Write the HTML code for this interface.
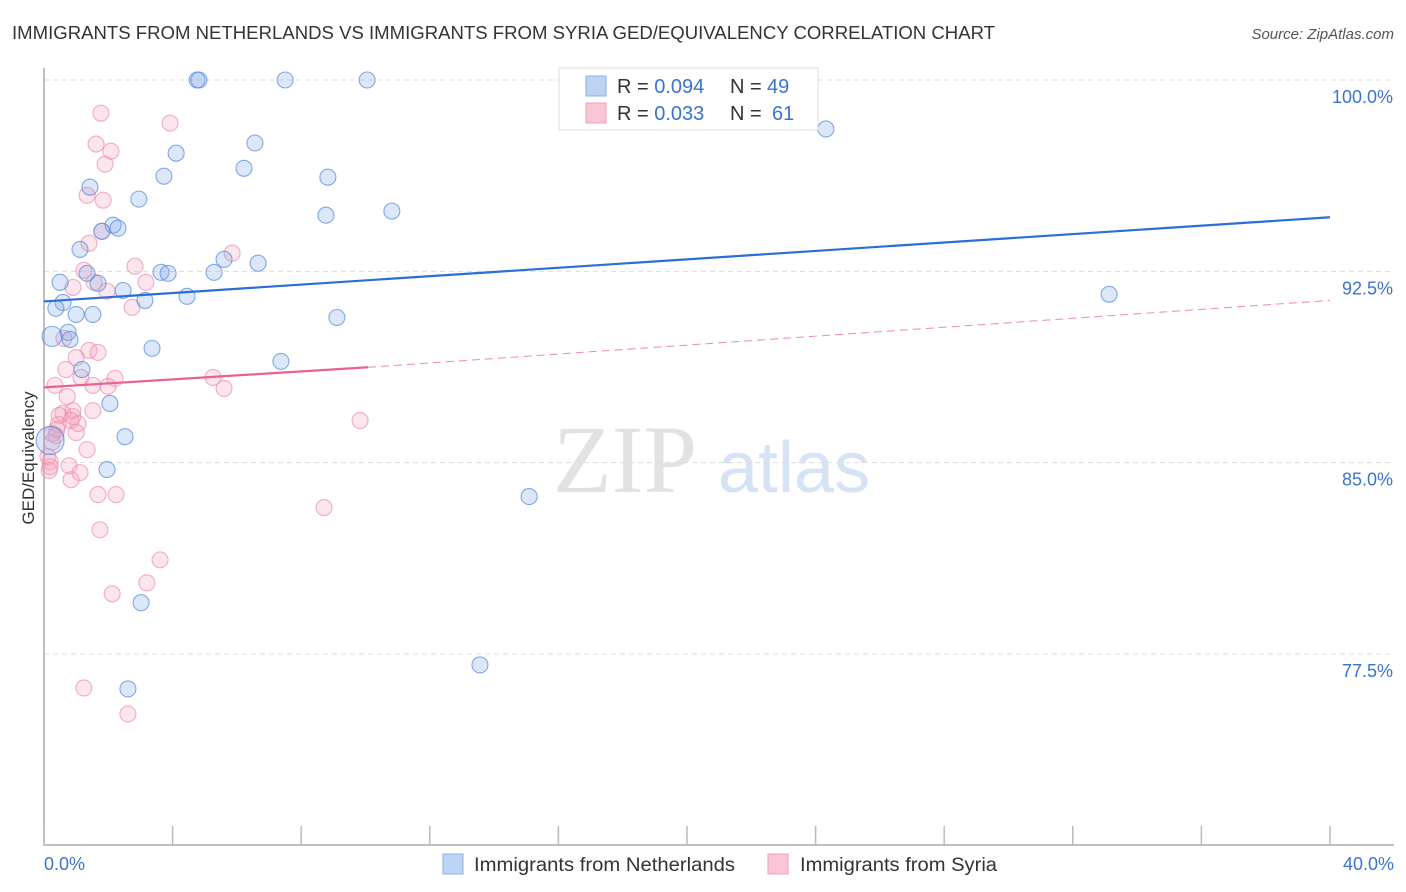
<!DOCTYPE html>
<html><head><meta charset="utf-8"><style>
body{margin:0;background:#fff;font-family:"Liberation Sans",sans-serif}
svg{display:block}
</style></head><body>
<svg id="chart" width="1406" height="892" xmlns="http://www.w3.org/2000/svg">
<text x="12" y="39" font-size="18" fill="#333" textLength="983" lengthAdjust="spacingAndGlyphs">IMMIGRANTS FROM NETHERLANDS VS IMMIGRANTS FROM SYRIA GED/EQUIVALENCY CORRELATION CHART</text>
<text x="1394" y="39" font-size="15" fill="#555" font-style="italic" text-anchor="end">Source: ZipAtlas.com</text>
<g>
<text x="553" y="492" font-family="Liberation Serif,serif" font-size="96" fill="#e2e2e2">ZIP</text>
<text x="718" y="492" font-size="72" fill="#d5e3f5">atlas</text>
</g>
<g id="grid"></g>
<g id="axes"></g>
<g id="pts"></g>
<g id="lines"></g>
<text x="34" y="458" font-size="17" fill="#333" transform="rotate(-90 34 458)" text-anchor="middle">GED/Equivalency</text>
<g>
<rect x="559" y="68" width="259" height="62" fill="#fff" stroke="#ddd"/>
<rect x="586" y="76" width="20" height="20" fill="#bcd3f4" stroke="#8ab0e8"/>
<rect x="586" y="103" width="20" height="20" fill="#f9c6d6" stroke="#f0a0bc"/>
<text x="617" y="93" font-size="20" fill="#333">R = <tspan fill="#3b73d1">0.094</tspan><tspan x="730">N = </tspan><tspan fill="#3b73d1" x="767">49</tspan></text>
<text x="617" y="120" font-size="20" fill="#333">R = <tspan fill="#3b73d1">0.033</tspan><tspan x="730">N = </tspan><tspan fill="#3b73d1" x="772">61</tspan></text>
</g>
<g>
<rect x="443" y="854" width="20" height="20" fill="#bcd3f4" stroke="#8ab0e8"/>
<text x="474" y="871" font-size="19" fill="#333" textLength="261" lengthAdjust="spacingAndGlyphs">Immigrants from Netherlands</text>
<rect x="768" y="854" width="20" height="20" fill="#f9c6d6" stroke="#f0a0bc"/>
<text x="800" y="871" font-size="19" fill="#333" textLength="197" lengthAdjust="spacingAndGlyphs">Immigrants from Syria</text>
</g>
</svg>
<script>
const yTicks=[100,92.5,85,77.5];
const yTickLabels=["100.0%","92.5%","85.0%","77.5%"];
const xTicks=[0,4,8,12,16,20,24,28,32,36,40];
const xTickLabels=["0.0%","40.0%"];
const blueX=[4.76,4.82,7.50,10.05,24.32,6.56,4.11,6.22,3.73,8.83,1.43,2.95,10.82,8.77,2.15,2.30,1.80,1.12,5.60,6.66,3.64,3.86,5.29,1.34,0.50,1.68,2.46,4.45,3.14,0.59,0.37,1.00,1.52,9.11,33.13,0.75,0.25,0.81,3.36,7.37,1.18,2.05,2.52,1.96,15.09,3.02,13.56,2.61,0.19];
const blueY=[100,100,100,100,98.08,97.53,97.13,96.54,96.23,96.19,95.80,95.33,94.86,94.70,94.31,94.19,94.07,93.36,92.97,92.82,92.46,92.42,92.46,92.42,92.07,92.03,91.75,91.52,91.36,91.28,91.05,90.81,90.81,90.69,91.60,90.11,89.95,89.83,89.48,88.97,88.65,87.32,86.02,84.73,83.67,79.51,77.07,76.13,85.87];
const pinkX=[1.77,3.92,1.62,2.08,1.90,1.34,1.84,1.40,1.80,2.83,1.24,1.56,3.17,0.90,1.96,2.74,5.85,0.62,1.40,1.68,1.00,0.68,1.15,2.21,5.26,5.60,0.34,1.52,1.99,0.72,0.90,1.52,0.59,0.47,0.90,0.84,0.44,1.06,0.40,1.00,0.25,0.37,1.34,0.78,1.12,0.12,0.19,0.19,0.16,0.84,1.68,2.24,8.71,9.83,1.74,3.61,3.20,2.12,1.24,2.61,0.25];
const pinkY=[98.70,98.31,97.49,97.21,96.70,95.48,95.29,93.60,94.07,92.70,92.54,92.07,92.07,91.87,91.72,91.09,93.21,89.87,89.40,89.32,89.12,88.65,88.34,88.30,88.34,87.91,88.03,88.03,87.99,87.59,87.04,87.04,86.93,86.85,86.81,86.65,86.49,86.53,86.30,86.18,86.14,86.06,85.51,84.88,84.61,85.24,85.04,84.84,84.69,84.33,83.75,83.75,83.24,86.65,82.37,81.19,80.29,79.86,76.17,75.15,85.80];
const blueTrendX=[0,40];
const blueTrendY=[91.32,94.62];
const pinkTrendX=[0,10.08,40];
const pinkTrendY=[87.95,88.74,91.36];

const NS="http://www.w3.org/2000/svg";
const X0=44,X1=1330,YT=80,YB=845;
function sx(v){return X0+v/40*(X1-X0);}
function sy(v){return YT+(100-v)*(654-80)/22.5;}
function mk(tag,attrs,parent){const e=document.createElementNS(NS,tag);for(const k in attrs)e.setAttribute(k,attrs[k]);parent.appendChild(e);return e;}
const grid=document.getElementById('grid'),axes=document.getElementById('axes'),pts=document.getElementById('pts'),lines=document.getElementById('lines');
yTicks.forEach((t,i)=>{
  const l=mk('line',{x1:X0,x2:1394,y1:sy(t),y2:sy(t),stroke:'#ddd','stroke-dasharray':'5,4'},grid);
  
  
  const tx=mk('text',{x:1393,y:sy(t)+23,'font-size':18,fill:'#3b73d1','text-anchor':'end'},axes);
  tx.textContent=yTickLabels[i];
  
  
});
const ax=mk('path',{d:`M${X0} 68V${YB}H1394`,fill:'none',stroke:'#aaa','stroke-width':1.5},axes);


xTicks.forEach(t=>{
  const l=mk('line',{x1:sx(t),x2:sx(t),y1:826,y2:YB,stroke:'#bbb','stroke-width':1.5},axes);
  
  
});
[[0,'start',44],[40,'end',1394]].forEach((d,i)=>{
  const tx=mk('text',{x:d[2],y:870,'font-size':18,fill:'#3b73d1','text-anchor':d[1]},axes);
  tx.textContent=xTickLabels[i];
  
  
});
function drawPts(xs,ys,fill,stroke,name){
  xs.forEach((x,i)=>{
    let r=8;
    if(name==='point-netherlands'&&i===xs.length-1)r=14;
    if(name==='point-netherlands'&&i===36)r=10;
    const c=mk('circle',{cx:sx(x),cy:sy(ys[i]),r:r,fill:fill,stroke:stroke,'stroke-width':1.1},pts);
    
    
  });
}
drawPts(pinkX,pinkY,'rgba(244,160,188,0.28)','rgba(236,140,172,0.7)','point-syria');
drawPts(blueX,blueY,'rgba(130,170,235,0.28)','rgba(80,135,220,0.7)','point-netherlands');
const bl=mk('line',{x1:sx(blueTrendX[0]),y1:sy(blueTrendY[0]),x2:sx(blueTrendX[1]),y2:sy(blueTrendY[1]),stroke:'#2a6fd6','stroke-width':2.2},lines);


const pl=mk('line',{x1:sx(pinkTrendX[0]),y1:sy(pinkTrendY[0]),x2:sx(pinkTrendX[1]),y2:sy(pinkTrendY[1]),stroke:'#e8628f','stroke-width':2.2},lines);


const pd=mk('line',{x1:sx(pinkTrendX[1]),y1:sy(pinkTrendY[1]),x2:sx(pinkTrendX[2]),y2:sy(pinkTrendY[2]),stroke:'#ee8aaa','stroke-width':1,'stroke-dasharray':'8,5'},lines);


</script>
</body></html>
